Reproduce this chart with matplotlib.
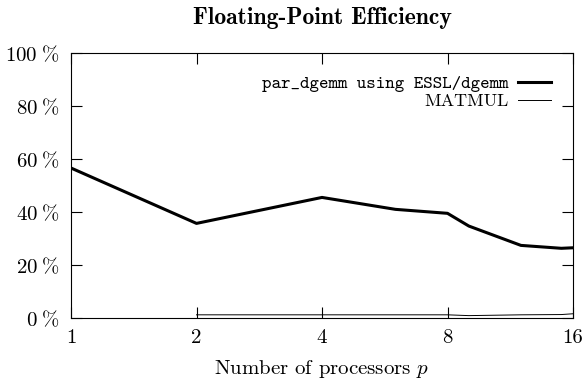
import matplotlib
matplotlib.use('Agg')
import matplotlib.pyplot as plt

# values
procs_essl = [1, 2, 4, 6, 8, 9, 12, 15, 16]
eff_essl = [56.6, 35.7, 45.5, 41.0, 39.5, 34.7, 27.4, 26.3, 26.5]
procs_matmul = [2, 4, 6, 8, 9, 12, 15, 16]
eff_matmul = [1.2, 1.2, 1.2, 1.2, 0.9, 1.2, 1.3, 1.6]
x_ticks = [1, 2, 4, 8, 16]
y_ticks = [0, 20, 40, 60, 80, 100]

plt.rcParams['font.family'] = 'cmr10'
plt.rcParams['mathtext.fontset'] = 'cm'
plt.rcParams['axes.unicode_minus'] = False

fig = plt.figure(figsize=(5.86, 3.82), dpi=100)
ax = fig.add_axes([71 / 586, 1 - 318 / 382, (573 - 71) / 586, (318 - 53) / 382])

ax.plot(procs_essl, eff_essl, color='black', lw=2.2, label='par_dgemm using ESSL/dgemm')
ax.plot(procs_matmul, eff_matmul, color='black', lw=0.7, label='MATMUL')

ax.set_xscale('log', base=2)
ax.set_xlim(1, 16)
ax.set_ylim(0, 100)
ax.set_xticks(x_ticks)
ax.set_xticklabels([str(v) for v in x_ticks], fontsize=15)
ax.xaxis.set_minor_locator(matplotlib.ticker.NullLocator())
ax.set_yticks(y_ticks)
ax.set_yticklabels([r'$%d\;\%%$' % v for v in y_ticks], fontsize=15)
ax.tick_params(direction='in', length=8, width=0.8, top=True, right=True, pad=8)
for s in ax.spines.values():
    s.set_linewidth(0.8)

ax.set_xlabel(r'Number of processors $p$', fontsize=15, labelpad=8)
ax.set_title('Floating-Point Efficiency', fontsize=17, fontfamily='cmb10', pad=21)

leg = ax.legend(loc='upper right', frameon=False, markerfirst=False, fontsize=13,
                handlelength=1.8, handletextpad=0.55, labelspacing=0.05,
                borderpad=0, borderaxespad=0, bbox_to_anchor=(0.956, 0.914))
leg.get_texts()[0].set_fontfamily('cmtt10')

fig.savefig('out.png', dpi=100)
